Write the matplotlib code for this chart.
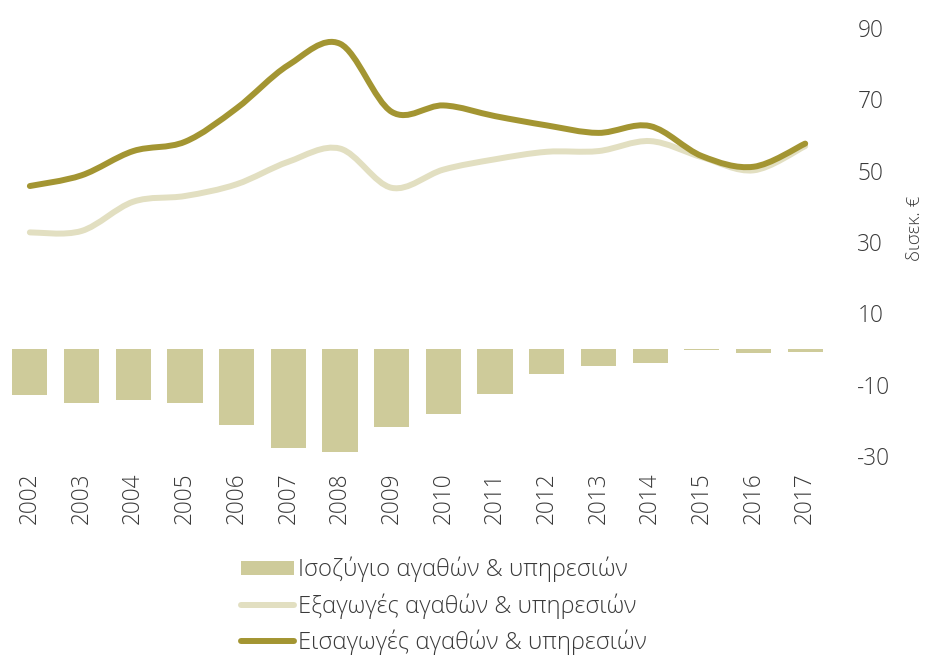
import numpy as np
import matplotlib
matplotlib.use("Agg")
import matplotlib.pyplot as plt
from matplotlib.path import Path
from matplotlib.patches import PathPatch, Patch
from matplotlib.lines import Line2D

plt.rcParams['font.family'] = ['Open Sans', 'DejaVu Sans']
plt.rcParams['font.weight'] = 'light'
plt.rcParams['axes.unicode_minus'] = False

years = ['2002', '2003', '2004', '2005', '2006', '2007', '2008', '2009',
         '2010', '2011', '2012', '2013', '2014', '2015', '2016', '2017']
# δισεκ. €
balance = [-12.9, -15.0, -14.3, -15.1, -21.4, -27.7, -28.8, -21.8,
           -18.3, -12.7, -7.1, -4.9, -3.9, -0.2, -1.2, -0.8]
exports = [32.7, 33.1, 41.3, 42.9, 46.2, 52.5, 56.2, 45.2,
           50.3, 53.2, 55.3, 55.5, 58.3, 53.8, 50.1, 56.9]
imports = [45.7, 48.7, 55.5, 58.1, 67.5, 79.6, 85.6, 66.5,
           68.3, 65.3, 62.7, 60.6, 62.5, 54.1, 51.1, 57.6]
yticks = [90, 70, 50, 30, 10, -10, -30]

labels = ['Ισοζύγιο αγαθών & υπηρεσιών',
          'Εξαγωγές αγαθών & υπηρεσιών',
          'Εισαγωγές αγαθών & υπηρεσιών']

c_bar = '#cecb9a'
c_exp = '#e2dfc1'
c_imp = '#a39532'
c_txt = '#3a3a3a'


def smooth_path(xs, ys):
    # Catmull-Rom curve through the points, drawn as cubic Bezier segments
    pts = np.column_stack([xs, ys]).astype(float)
    n = len(pts)
    verts = [pts[0]]
    codes = [Path.MOVETO]
    for i in range(n - 1):
        p0 = pts[max(i - 1, 0)]
        p1 = pts[i]
        p2 = pts[i + 1]
        p3 = pts[min(i + 2, n - 1)]
        verts += [p1 + (p2 - p0) / 6, p2 - (p3 - p1) / 6, p2]
        codes += [Path.CURVE4] * 3
    return Path(verts, codes)


fig = plt.figure(figsize=(9.35, 6.55), dpi=100)
ax = fig.add_axes([0.0043, 0.3038, 0.8845, 0.6534])

x = np.arange(len(years))
ax.bar(x, balance, width=0.68, color=c_bar, zorder=1)
ax.add_patch(PathPatch(smooth_path(x, exports), facecolor='none', edgecolor=c_exp,
                       lw=4.3, capstyle='round', zorder=2))
ax.add_patch(PathPatch(smooth_path(x, imports), facecolor='none', edgecolor=c_imp,
                       lw=4.3, capstyle='round', zorder=3))

ax.set_xlim(-0.5, len(years) - 0.5)
ax.set_ylim(-30, 90)
ax.set_xticks(x)
ax.set_xticklabels(years, rotation=90)
ax.set_yticks(yticks)
ax.yaxis.tick_right()
ax.tick_params(axis='both', length=0, labelsize=16.3, labelcolor=c_txt)
ax.tick_params(axis='y', pad=19)
ax.tick_params(axis='x', pad=12)
for s in ax.spines.values():
    s.set_visible(False)

fig.text(0.979, 1 - 228 / 655, 'δισεκ. €', rotation=90, ha='center', va='center',
         fontsize=13.5, color=c_txt)

handles = [Patch(facecolor=c_bar, edgecolor='none'),
           Line2D([], [], color=c_exp, lw=4.3, solid_capstyle='round'),
           Line2D([], [], color=c_imp, lw=4.3, solid_capstyle='round')]
fig.legend(handles, labels, loc='upper left', bbox_to_anchor=(241 / 935, 1 - 557 / 655),
           frameon=False, fontsize=17.2, labelcolor=c_txt, handlelength=2.2,
           handletextpad=0.2, labelspacing=0.45, borderpad=0, borderaxespad=0,
           handleheight=0.55)

fig.savefig('out.png', dpi=100)
